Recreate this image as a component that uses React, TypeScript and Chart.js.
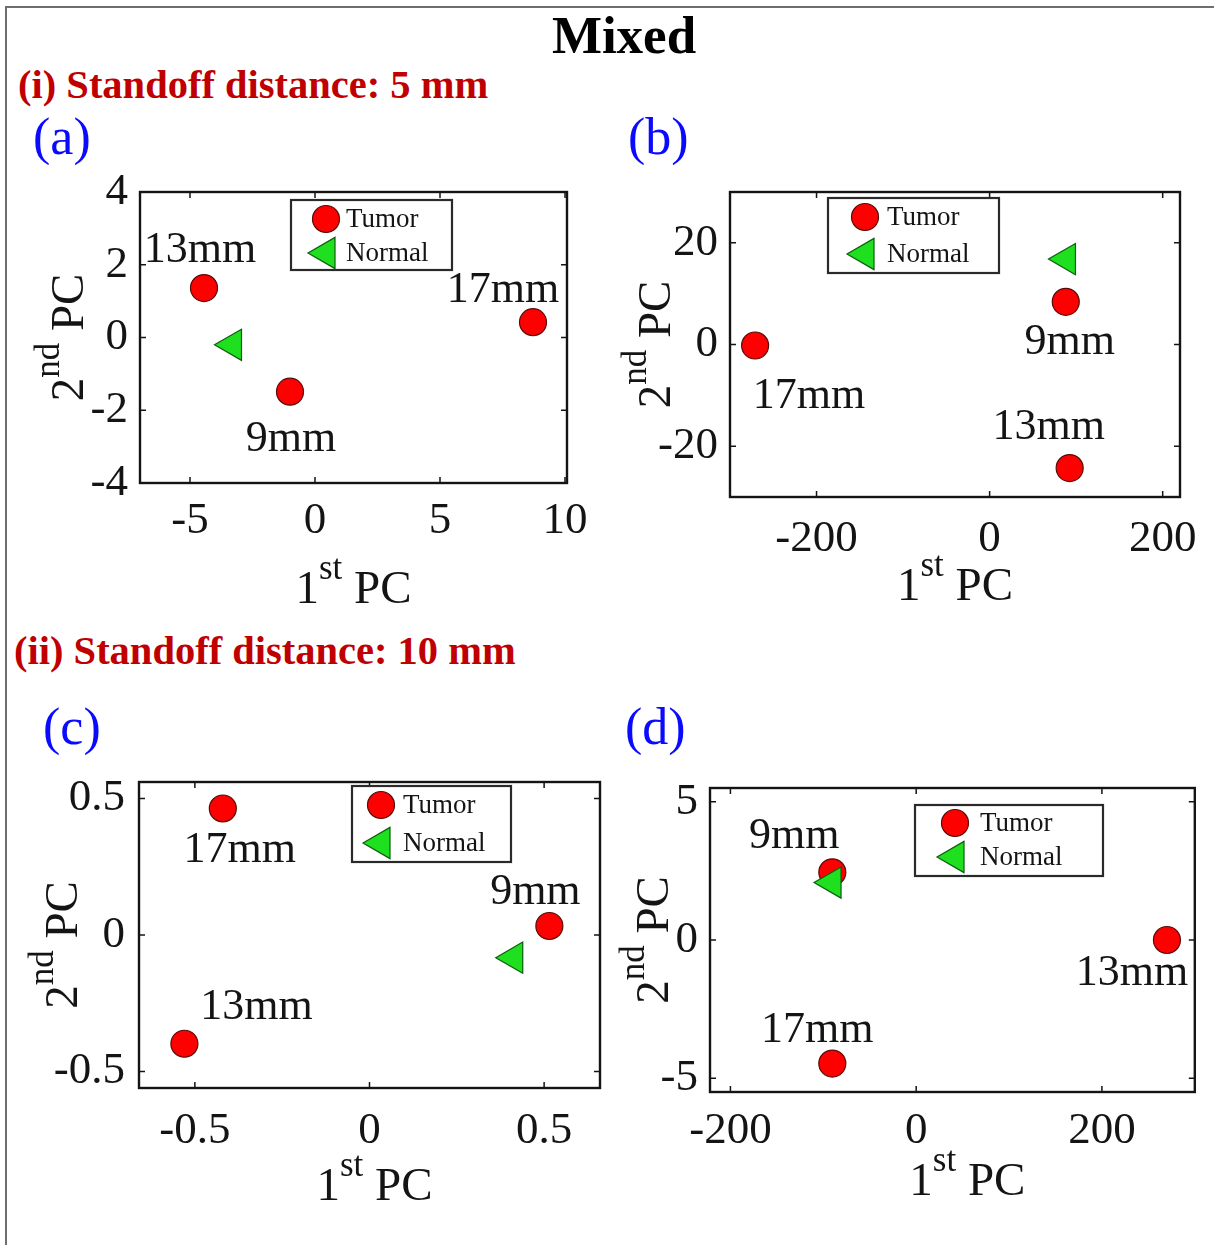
import React, { useEffect, useRef } from 'react';
import { Chart, registerables } from 'chart.js';

Chart.register(...registerables);

const FONT = "'Liberation Serif', 'Times New Roman', Times, serif";

// ---------- data: panel (a) standoff 5 mm ----------
const A_TUMOR_X = [-4.44, -1.0, 8.72];
const A_TUMOR_Y = [1.36, -1.49, 0.42];
const A_TUMOR_LABELS = ['13mm', '9mm', '17mm'];
const A_NORMAL_X = [-3.3];
const A_NORMAL_Y = [-0.2];
const A_X_TICKS = [-5, 0, 5, 10];
const A_Y_TICKS = [-4, -2, 0, 2, 4];

// ---------- data: panel (b) standoff 5 mm ----------
const B_TUMOR_X = [-271, 88, 92.5];
const B_TUMOR_Y = [-0.2, 8.4, -24.3];
const B_TUMOR_LABELS = ['17mm', '9mm', '13mm'];
const B_NORMAL_X = [88.8];
const B_NORMAL_Y = [16.8];
const B_X_TICKS = [-200, 0, 200];
const B_Y_TICKS = [-20, 0, 20];

// ---------- data: panel (c) standoff 10 mm ----------
const C_TUMOR_X = [-0.42, 0.515, -0.53];
const C_TUMOR_Y = [0.463, 0.033, -0.398];
const C_TUMOR_LABELS = ['17mm', '9mm', '13mm'];
const C_NORMAL_X = [0.413];
const C_NORMAL_Y = [-0.083];
const C_X_TICKS = [-0.5, 0, 0.5];
const C_Y_TICKS = [-0.5, 0, 0.5];

// ---------- data: panel (d) standoff 10 mm ----------
const D_TUMOR_X = [-90.3, 270, -90.3];
const D_TUMOR_Y = [2.45, 0.0, -4.47];
const D_TUMOR_LABELS = ['9mm', '13mm', '17mm'];
const D_NORMAL_X = [-90.6];
const D_NORMAL_Y = [2.08];
const D_X_TICKS = [-200, 0, 200];
const D_Y_TICKS = [-5, 0, 5];

const LEGEND_LABELS = ['Tumor', 'Normal'];
const X_TITLE = ['1', 'st', ' PC'];
const Y_TITLE = ['2', 'nd', ' PC'];

// ---------- layout (page pixels) ----------
type Panel = {
  tumorX: number[]; tumorY: number[]; labels: string[];
  normalX: number[]; normalY: number[];
  xTicks: number[]; yTicks: number[];
  xRange: [number, number]; yRange: [number, number];
  area: { L: number; T: number; R: number; B: number };
  canvas: { x: number; y: number; w: number; h: number };
  labelOffsets: [number, number][];
  legend: { dx: number; dy: number; w: number; h: number; mx: number; tx: number; r1: number; r2: number };
  xTitle: { dy: number; dx: number };
  yTitle: { dx: number; dy: number };
  xPad: number; yPad: number;
};

const PANELS: Panel[] = [
  {
    tumorX: A_TUMOR_X, tumorY: A_TUMOR_Y, labels: A_TUMOR_LABELS,
    normalX: A_NORMAL_X, normalY: A_NORMAL_Y, xTicks: A_X_TICKS, yTicks: A_Y_TICKS,
    xRange: [-7, 10.08], yRange: [-4, 4],
    area: { L: 140, T: 192, R: 567, B: 483 },
    canvas: { x: 10, y: 140, w: 595, h: 480 },
    labelOffsets: [[-4, -38], [1, 48], [-30, -32]],
    legend: { dx: 151, dy: 8, w: 161, h: 70, mx: 35, tx: 55, r1: 19, r2: 53 },
    xTitle: { dy: 120, dx: 0 }, yTitle: { dx: 57, dy: 0 },
    xPad: 11, yPad: 12,
  },
  {
    tumorX: B_TUMOR_X, tumorY: B_TUMOR_Y, labels: B_TUMOR_LABELS,
    normalX: B_NORMAL_X, normalY: B_NORMAL_Y, xTicks: B_X_TICKS, yTicks: B_Y_TICKS,
    xRange: [-300, 220], yRange: [-30, 30],
    area: { L: 730, T: 192, R: 1180, B: 497 },
    canvas: { x: 605, y: 140, w: 609, h: 480 },
    labelOffsets: [[54, 51], [4, 41], [-21, -41]],
    legend: { dx: 98, dy: 6, w: 171, h: 75, mx: 37, tx: 59, r1: 19, r2: 56 },
    xTitle: { dy: 103, dx: 0 }, yTitle: { dx: 60, dy: 0 },
    xPad: 15, yPad: 12,
  },
  {
    tumorX: C_TUMOR_X, tumorY: C_TUMOR_Y, labels: C_TUMOR_LABELS,
    normalX: C_NORMAL_X, normalY: C_NORMAL_Y, xTicks: C_X_TICKS, yTicks: C_Y_TICKS,
    xRange: [-0.66, 0.66], yRange: [-0.56, 0.56],
    area: { L: 139, T: 782, R: 600, B: 1088 },
    canvas: { x: 10, y: 730, w: 640, h: 505 },
    labelOffsets: [[17, 42], [-14, -34], [72, -36]],
    legend: { dx: 213, dy: 4, w: 159, h: 76, mx: 29, tx: 51, r1: 19, r2: 57 },
    xTitle: { dy: 112, dx: 5 }, yTitle: { dx: 62, dy: 10 },
    xPad: 16, yPad: 14,
  },
  {
    tumorX: D_TUMOR_X, tumorY: D_TUMOR_Y, labels: D_TUMOR_LABELS,
    normalX: D_NORMAL_X, normalY: D_NORMAL_Y, xTicks: D_X_TICKS, yTicks: D_Y_TICKS,
    xRange: [-222, 300], yRange: [-5.5, 5.5],
    area: { L: 710, T: 788, R: 1197, B: 1092 },
    canvas: { x: 605, y: 730, w: 609, h: 505 },
    labelOffsets: [[-38, -36], [-35, 33], [-15, -33]],
    legend: { dx: 205, dy: 17, w: 188, h: 71, mx: 40, tx: 65, r1: 18, r2: 52 },
    xTitle: { dy: 103, dx: 15 }, yTitle: { dx: 42, dy: 0 },
    xPad: 12, yPad: 12,
  },
];

const TICK_FONT = 45;
const LABEL_FONT = 44;
const TITLE_FONT = 47;
const SUP_FONT = 35;
const SUP_RAISE = 24;
const LEGEND_FONT = 27;
const RED = '#ff0000';
const RED_EDGE = '#5a0a0a';
const GREEN = '#1fe01f';
const GREEN_EDGE = '#0b5e0b';
const CIRCLE_R = 13.5;
const TRI_R = 18;
const INK = '#141414';

function drawTriangleLeft(ctx: CanvasRenderingContext2D, x: number, y: number, r: number) {
  // same geometry as Chart.js 'triangle' point rotated -90deg
  ctx.beginPath();
  let rad = (-90 * Math.PI) / 180;
  for (let k = 0; k < 3; k++) {
    rad += (2 * Math.PI) / 3;
    const px = x + Math.sin(rad) * r;
    const py = y - Math.cos(rad) * r;
    if (k === 0) ctx.moveTo(px, py); else ctx.lineTo(px, py);
  }
  ctx.closePath();
}

function drawSup(ctx: CanvasRenderingContext2D, parts: string[], cx: number, baseY: number) {
  ctx.textAlign = 'left';
  ctx.textBaseline = 'alphabetic';
  ctx.font = `${TITLE_FONT}px ${FONT}`;
  const w1 = ctx.measureText(parts[0]).width;
  const w3 = ctx.measureText(parts[2]).width;
  ctx.font = `${SUP_FONT}px ${FONT}`;
  const w2 = ctx.measureText(parts[1]).width;
  let x = cx - (w1 + w2 + w3) / 2;
  ctx.font = `${TITLE_FONT}px ${FONT}`;
  ctx.fillText(parts[0], x, baseY);
  x += w1;
  ctx.font = `${SUP_FONT}px ${FONT}`;
  ctx.fillText(parts[1], x, baseY - SUP_RAISE);
  x += w2;
  ctx.font = `${TITLE_FONT}px ${FONT}`;
  ctx.fillText(parts[2], x, baseY);
}

const matlabPlugin = {
  id: 'matlab',
  beforeDatasetsDraw(chart: any) {
    const { ctx, chartArea: ca, scales } = chart;
    ctx.save();
    ctx.strokeStyle = INK;
    ctx.lineWidth = 1.5;
    const len = 6;
    ctx.beginPath();
    scales.x.ticks.forEach((t: any) => {
      const px = scales.x.getPixelForValue(t.value);
      ctx.moveTo(px, ca.bottom); ctx.lineTo(px, ca.bottom - len);
      ctx.moveTo(px, ca.top); ctx.lineTo(px, ca.top + len);
    });
    scales.y.ticks.forEach((t: any) => {
      const py = scales.y.getPixelForValue(t.value);
      ctx.moveTo(ca.left, py); ctx.lineTo(ca.left + len, py);
      ctx.moveTo(ca.right, py); ctx.lineTo(ca.right - len, py);
    });
    ctx.stroke();
    ctx.lineWidth = 2.4;
    ctx.strokeRect(ca.left, ca.top, ca.right - ca.left, ca.bottom - ca.top);
    ctx.restore();
  },
  afterDatasetsDraw(chart: any, _args: any, opts: any) {
    const p: Panel = opts.panel;
    const { ctx, chartArea: ca, scales } = chart;
    ctx.save();
    // point labels
    ctx.fillStyle = INK;
    ctx.font = `${LABEL_FONT}px ${FONT}`;
    ctx.textAlign = 'center';
    ctx.textBaseline = 'middle';
    p.labels.forEach((lab, i) => {
      const px = scales.x.getPixelForValue(p.tumorX[i]);
      const py = scales.y.getPixelForValue(p.tumorY[i]);
      const [dx, dy] = p.labelOffsets[i];
      ctx.fillText(lab, px + dx, py + dy);
    });
    // legend box
    const lg = p.legend;
    const bx = ca.left + lg.dx;
    const by = ca.top + lg.dy;
    ctx.fillStyle = '#ffffff';
    ctx.fillRect(bx, by, lg.w, lg.h);
    ctx.strokeStyle = '#2a2a2a';
    ctx.lineWidth = 2.2;
    ctx.strokeRect(bx, by, lg.w, lg.h);
    ctx.lineWidth = 1.2;
    ctx.beginPath();
    ctx.arc(bx + lg.mx, by + lg.r1, CIRCLE_R, 0, Math.PI * 2);
    ctx.fillStyle = RED; ctx.fill();
    ctx.strokeStyle = RED_EDGE; ctx.stroke();
    drawTriangleLeft(ctx, bx + lg.mx, by + lg.r2, TRI_R);
    ctx.fillStyle = GREEN; ctx.fill();
    ctx.strokeStyle = GREEN_EDGE; ctx.stroke();
    ctx.fillStyle = INK;
    ctx.font = `${LEGEND_FONT}px ${FONT}`;
    ctx.textAlign = 'left';
    ctx.textBaseline = 'middle';
    ctx.fillText(LEGEND_LABELS[0], bx + lg.tx, by + lg.r1 + 1);
    ctx.fillText(LEGEND_LABELS[1], bx + lg.tx, by + lg.r2 + 1);
    // axis titles
    ctx.fillStyle = INK;
    drawSup(ctx, X_TITLE, (ca.left + ca.right) / 2 + p.xTitle.dx, ca.bottom + p.xTitle.dy);
    ctx.translate(ca.left - p.yTitle.dx, (ca.top + ca.bottom) / 2 + p.yTitle.dy);
    ctx.rotate(-Math.PI / 2);
    drawSup(ctx, Y_TITLE, 0, 0);
    ctx.restore();
  },
};

function ScatterPanel({ p }: { p: Panel }) {
  const ref = useRef<HTMLCanvasElement>(null);
  useEffect(() => {
    const cv = ref.current;
    if (!cv) return;
    const { area, canvas } = p;
    const padT = area.T - canvas.y;
    const padR = canvas.x + canvas.w - area.R;
    const yAxisW = area.L - canvas.x;
    const padB = 4;
    const xAxisH = canvas.y + canvas.h - area.B - padB;
    const tickFont = { family: FONT, size: TICK_FONT };
    const chart = new Chart(cv, {
      type: 'scatter',
      data: {
        datasets: [
          {
            label: LEGEND_LABELS[0],
            data: p.tumorX.map((x, i) => ({ x, y: p.tumorY[i] })),
            pointStyle: 'circle',
            pointRadius: CIRCLE_R,
            pointBackgroundColor: RED,
            pointBorderColor: RED_EDGE,
            pointBorderWidth: 1.2,
            order: 1,
          },
          {
            label: LEGEND_LABELS[1],
            data: p.normalX.map((x, i) => ({ x, y: p.normalY[i] })),
            pointStyle: 'triangle',
            pointRotation: -90,
            pointRadius: TRI_R,
            pointBackgroundColor: GREEN,
            pointBorderColor: GREEN_EDGE,
            pointBorderWidth: 1.2,
            order: 0,
          },
        ],
      } as any,
      options: {
        responsive: false,
        animation: false,
        events: [],
        clip: false as any,
        layout: { padding: { left: 0, top: padT, right: padR, bottom: padB } },
        plugins: {
          legend: { display: false },
          tooltip: { enabled: false },
          matlab: { panel: p },
        } as any,
        scales: {
          x: {
            type: 'linear',
            min: p.xRange[0],
            max: p.xRange[1],
            grid: { display: false, drawTicks: false },
            border: { display: false },
            afterBuildTicks: (s: any) => { s.ticks = p.xTicks.map((v) => ({ value: v })); },
            afterFit: (s: any) => { s.height = xAxisH; },
            ticks: {
              font: tickFont, color: INK, padding: p.xPad, maxRotation: 0, autoSkip: false,
              callback: (v: any) => String(v),
            },
          },
          y: {
            type: 'linear',
            min: p.yRange[0],
            max: p.yRange[1],
            grid: { display: false, drawTicks: false },
            border: { display: false },
            afterBuildTicks: (s: any) => { s.ticks = p.yTicks.map((v) => ({ value: v })); },
            afterFit: (s: any) => { s.width = yAxisW; },
            ticks: {
              font: tickFont, color: INK, padding: p.yPad, autoSkip: false,
              callback: (v: any) => String(v),
            },
          },
        },
      } as any,
      plugins: [matlabPlugin as any],
    });
    return () => chart.destroy();
  }, [p]);
  return (
    <canvas
      ref={ref}
      width={p.canvas.w}
      height={p.canvas.h}
      style={{ position: 'absolute', left: p.canvas.x, top: p.canvas.y, width: p.canvas.w, height: p.canvas.h }}
    />
  );
}

function Txt(props: { x: number; baseline: number; size: number; color: string; bold?: boolean; center?: boolean; children: string }) {
  const { x, baseline, size, color, bold, center, children } = props;
  return (
    <div
      style={{
        position: 'absolute',
        left: x,
        top: baseline - 0.8375 * size,
        fontFamily: FONT,
        fontSize: size,
        lineHeight: `${size}px`,
        fontWeight: bold ? 'bold' : 'normal',
        color,
        whiteSpace: 'nowrap',
        transform: center ? 'translateX(-50%)' : undefined,
      }}
    >
      {children}
    </div>
  );
}

export default function App() {
  return (
    <div style={{ position: 'absolute', left: 0, top: 0, width: 1214, height: 1245, background: '#ffffff', overflow: 'hidden' }}>
      <div style={{ position: 'absolute', left: 5, top: 6, width: 1214, height: 1245, borderTop: '2px solid #6e6e6e', borderLeft: '2px solid #6e6e6e' }} />
      <Txt x={624} baseline={53} size={53} color="#000000" bold center>Mixed</Txt>
      <Txt x={18} baseline={99} size={40.5} color="#c00000" bold>(i) Standoff distance: 5 mm</Txt>
      <Txt x={33} baseline={155} size={52} color="#0a0aff">(a)</Txt>
      <Txt x={628} baseline={155} size={52} color="#0a0aff">(b)</Txt>
      <Txt x={14} baseline={665} size={40.5} color="#c00000" bold>(ii) Standoff distance: 10 mm</Txt>
      <Txt x={43} baseline={745} size={52} color="#0a0aff">(c)</Txt>
      <Txt x={625} baseline={745} size={52} color="#0a0aff">(d)</Txt>
      {PANELS.map((p, i) => (
        <ScatterPanel key={i} p={p} />
      ))}
    </div>
  );
}
